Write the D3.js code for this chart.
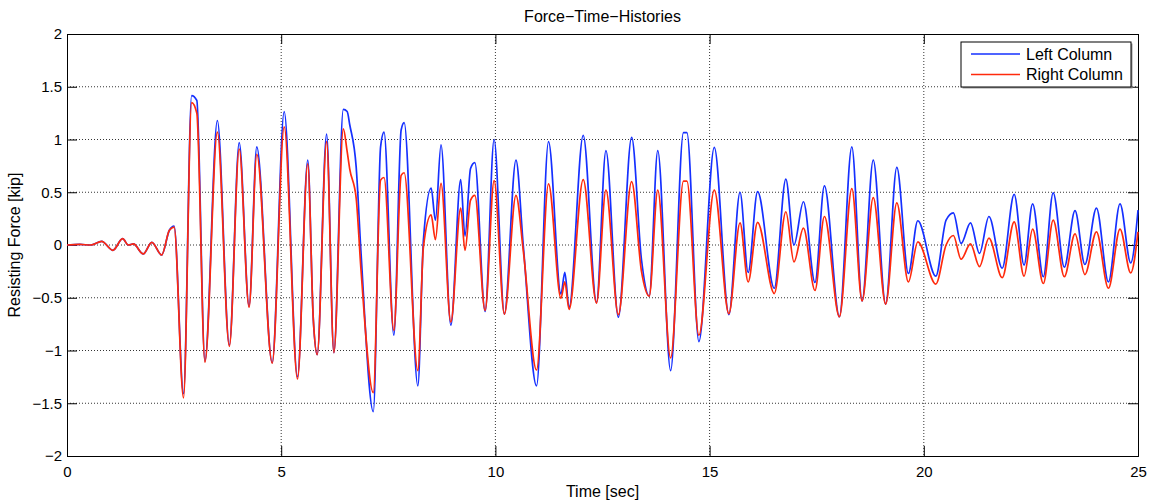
<!DOCTYPE html>
<html>
<head>
<meta charset="utf-8">
<script src="https://cdn.jsdelivr.net/npm/d3@7"></script>
<style>
  body { margin: 0; background: #fff; }
  svg text { font-family: "Liberation Sans", Arial, Helvetica, sans-serif; fill: #000; }
</style>
</head>
<body>
<svg id="chart" width="1152" height="502"></svg>
<script>
// key points (time in sec, force in kip)
const timeSec = [0.00, 0.30, 0.55, 0.81, 1.07, 1.30, 1.43, 1.55, 1.78, 1.98, 2.21, 2.39, 2.50, 2.72, 2.91, 3.03,
  3.22, 3.51, 3.79, 4.02, 4.25, 4.43, 4.79, 5.07, 5.38, 5.62, 5.75, 5.84, 6.06, 6.23, 6.45, 6.54, 6.60,
  6.75, 6.86, 7.15, 7.32, 7.40, 7.63, 7.80, 7.87, 8.19, 8.32, 8.50, 8.60, 8.73, 8.96, 9.19, 9.29, 9.42,
  9.52, 9.76, 9.97, 10.21, 10.48, 10.65, 10.96, 11.24, 11.53, 11.62, 11.72, 12.05, 12.36, 12.58, 12.87,
  13.18, 13.41, 13.59, 13.79, 14.09, 14.39, 14.47, 14.75, 15.11, 15.45, 15.71, 15.90, 16.12, 16.51,
  16.78, 16.97, 17.19, 17.46, 17.68, 18.03, 18.32, 18.56, 18.82, 19.11, 19.37, 19.64, 19.86, 20.28,
  20.52, 20.69, 20.87, 21.09, 21.30, 21.52, 21.83, 22.11, 22.34, 22.54, 22.79, 23.02, 23.28, 23.53,
  23.76, 24.03, 24.31, 24.58, 24.83, 25.00];

const leftColumn = [0, 0.005, 0, 0.035, -0.05, 0.06, 0, 0.01, -0.085, 0.025, -0.095, 0.14, 0.18, -1.41, 1.415, 1.37,
  -1.10, 1.18, -0.95, 0.97, -0.58, 0.93, -1.115, 1.265, -1.25, 0.805, -0.71, -1.04, 1.05, -1.02, 1.285, 1.265, 1.14,
  0.74, -0.05, -1.58, 0.93, 1.07, -0.855, 1.09, 1.16, -1.335, 0.05, 0.54, 0.235, 0.95, -0.76, 0.62, 0.085, 0.725,
  0.78, -0.63, 1.00, -0.655, 0.805, 0.0, -1.335, 0.98, -0.465, -0.26, -0.595, 1.04, -0.545, 0.895, -0.685,
  1.02, -0.14, -0.485, 0.895, -1.19, 1.065, 1.065, -0.915, 0.925, -0.66, 0.50, -0.26, 0.505, -0.41,
  0.625, 0.0, 0.41, -0.355, 0.56, -0.68, 0.93, -0.53, 0.805, -0.56, 0.735, -0.27, 0.23, -0.295,
  0.235, 0.305, 0.015, 0.21, -0.08, 0.27, -0.22, 0.48, -0.19, 0.39, -0.30, 0.495, -0.21, 0.325,
  -0.185, 0.35, -0.35, 0.39, -0.17, 0.33];

const rightColumn = [0, 0.005, 0, 0.035, -0.05, 0.06, 0, 0.01, -0.085, 0.025, -0.095, 0.14, 0.17, -1.45, 1.35, 1.25,
  -1.11, 1.07, -0.96, 0.91, -0.59, 0.86, -1.12, 1.12, -1.27, 0.77, -0.71, -1.04, 0.98, -1.02, 1.10, 0.885, 0.72,
  0.445, -0.22, -1.40, 0.615, 0.64, -0.81, 0.66, 0.685, -1.19, -0.02, 0.285, 0.05, 0.585, -0.73, 0.35, -0.05, 0.425,
  0.47, -0.62, 0.61, -0.655, 0.47, -0.05, -1.185, 0.58, -0.505, -0.35, -0.61, 0.62, -0.55, 0.52, -0.66,
  0.60, -0.25, -0.485, 0.52, -1.07, 0.605, 0.605, -0.855, 0.52, -0.65, 0.21, -0.35, 0.215, -0.46,
  0.315, -0.16, 0.16, -0.43, 0.27, -0.68, 0.535, -0.53, 0.45, -0.56, 0.40, -0.35, 0.03, -0.37,
  0.0, 0.09, -0.135, 0.01, -0.205, 0.065, -0.31, 0.22, -0.295, 0.15, -0.365, 0.235, -0.30, 0.105,
  -0.28, 0.125, -0.41, 0.15, -0.265, 0.125];

const xTicks = [0, 5, 10, 15, 20, 25];
const yTicks = [-2, -1.5, -1, -0.5, 0, 0.5, 1, 1.5, 2];
const seriesNames = ['Left Column', 'Right Column'];
const seriesColors = ['#1530ff', '#ff2a0c'];

const svg = d3.select('#chart');
const margin = { top: 34, right: 14, bottom: 46, left: 67 };
const width = 1152 - margin.left - margin.right;
const height = 502 - margin.top - margin.bottom;

const x = d3.scaleLinear().domain([0, 25]).range([0, width]);
const y = d3.scaleLinear().domain([-2, 2]).range([height, 0]);

const g = svg.append('g').attr('transform', `translate(${margin.left},${margin.top})`);

// dotted grid
g.append('g').selectAll('line').data(xTicks.slice(1, -1)).enter().append('line')
  .attr('x1', d => x(d)).attr('x2', d => x(d)).attr('y1', 0).attr('y2', height)
  .attr('stroke', '#000').attr('stroke-width', 0.8).attr('stroke-dasharray', '1,2');
g.append('g').selectAll('line').data(yTicks.slice(1, -1)).enter().append('line')
  .attr('y1', d => y(d)).attr('y2', d => y(d)).attr('x1', 0).attr('x2', width)
  .attr('stroke', '#000').attr('stroke-width', 0.8).attr('stroke-dasharray', '1,2');

// axes with inward ticks on all four sides
const fmt = d3.format('');
const axB = g.append('g').attr('transform', `translate(0,${height})`)
  .call(d3.axisBottom(x).tickValues(xTicks).tickSize(-10).tickPadding(10).tickFormat(fmt));
const axL = g.append('g')
  .call(d3.axisLeft(y).tickValues(yTicks).tickSize(-10).tickPadding(5).tickFormat(fmt));
const axT = g.append('g')
  .call(d3.axisTop(x).tickValues(xTicks).tickSize(-10).tickFormat(''));
const axR = g.append('g').attr('transform', `translate(${width},0)`)
  .call(d3.axisRight(y).tickValues(yTicks).tickSize(-10).tickFormat(''));
[axB, axL, axT, axR].forEach(a => {
  a.select('.domain').attr('stroke', '#000').attr('stroke-width', 1);
  a.selectAll('.tick line').attr('stroke', '#000');
  a.selectAll('.tick text').attr('font-size', 15).attr('fill', '#000')
    .style('font-family', '"Liberation Sans", Arial, sans-serif');
});

// lines
const line = vals => d3.line()
  .x((d, i) => x(timeSec[i]))
  .y(d => y(d))
  .curve(d3.curveMonotoneX)(vals);

[leftColumn, rightColumn].forEach((vals, i) => {
  g.append('path')
    .attr('d', line(vals))
    .attr('fill', 'none')
    .attr('stroke', seriesColors[i])
    .attr('stroke-width', 1.7)
    .attr('stroke-linejoin', 'round');
});

// titles
svg.append('text').attr('x', margin.left + width / 2).attr('y', 22)
  .attr('text-anchor', 'middle').attr('font-size', 16).text('Force\u2212Time\u2212Histories');
svg.append('text').attr('x', margin.left + width / 2).attr('y', 497)
  .attr('text-anchor', 'middle').attr('font-size', 16).text('Time [sec]');
svg.append('text').attr('transform', `translate(20,${margin.top + height / 2}) rotate(-90)`)
  .attr('text-anchor', 'middle').attr('font-size', 16).text('Resisting Force [kip]');

// legend
const lg = svg.append('g').attr('transform', 'translate(961,42)');
lg.append('rect').attr('x', 1.5).attr('y', 1.5).attr('width', 170).attr('height', 45).attr('fill', '#999');
lg.append('rect').attr('width', 170).attr('height', 45).attr('fill', '#fff').attr('stroke', '#000');
seriesNames.forEach((name, i) => {
  const yy = 12 + i * 20.5;
  lg.append('line').attr('x1', 10).attr('x2', 59).attr('y1', yy).attr('y2', yy)
    .attr('stroke', seriesColors[i]).attr('stroke-width', 1.7);
  lg.append('text').attr('x', 65).attr('y', yy + 5.5).attr('font-size', 16).text(name);
});
</script>
</body>
</html>
